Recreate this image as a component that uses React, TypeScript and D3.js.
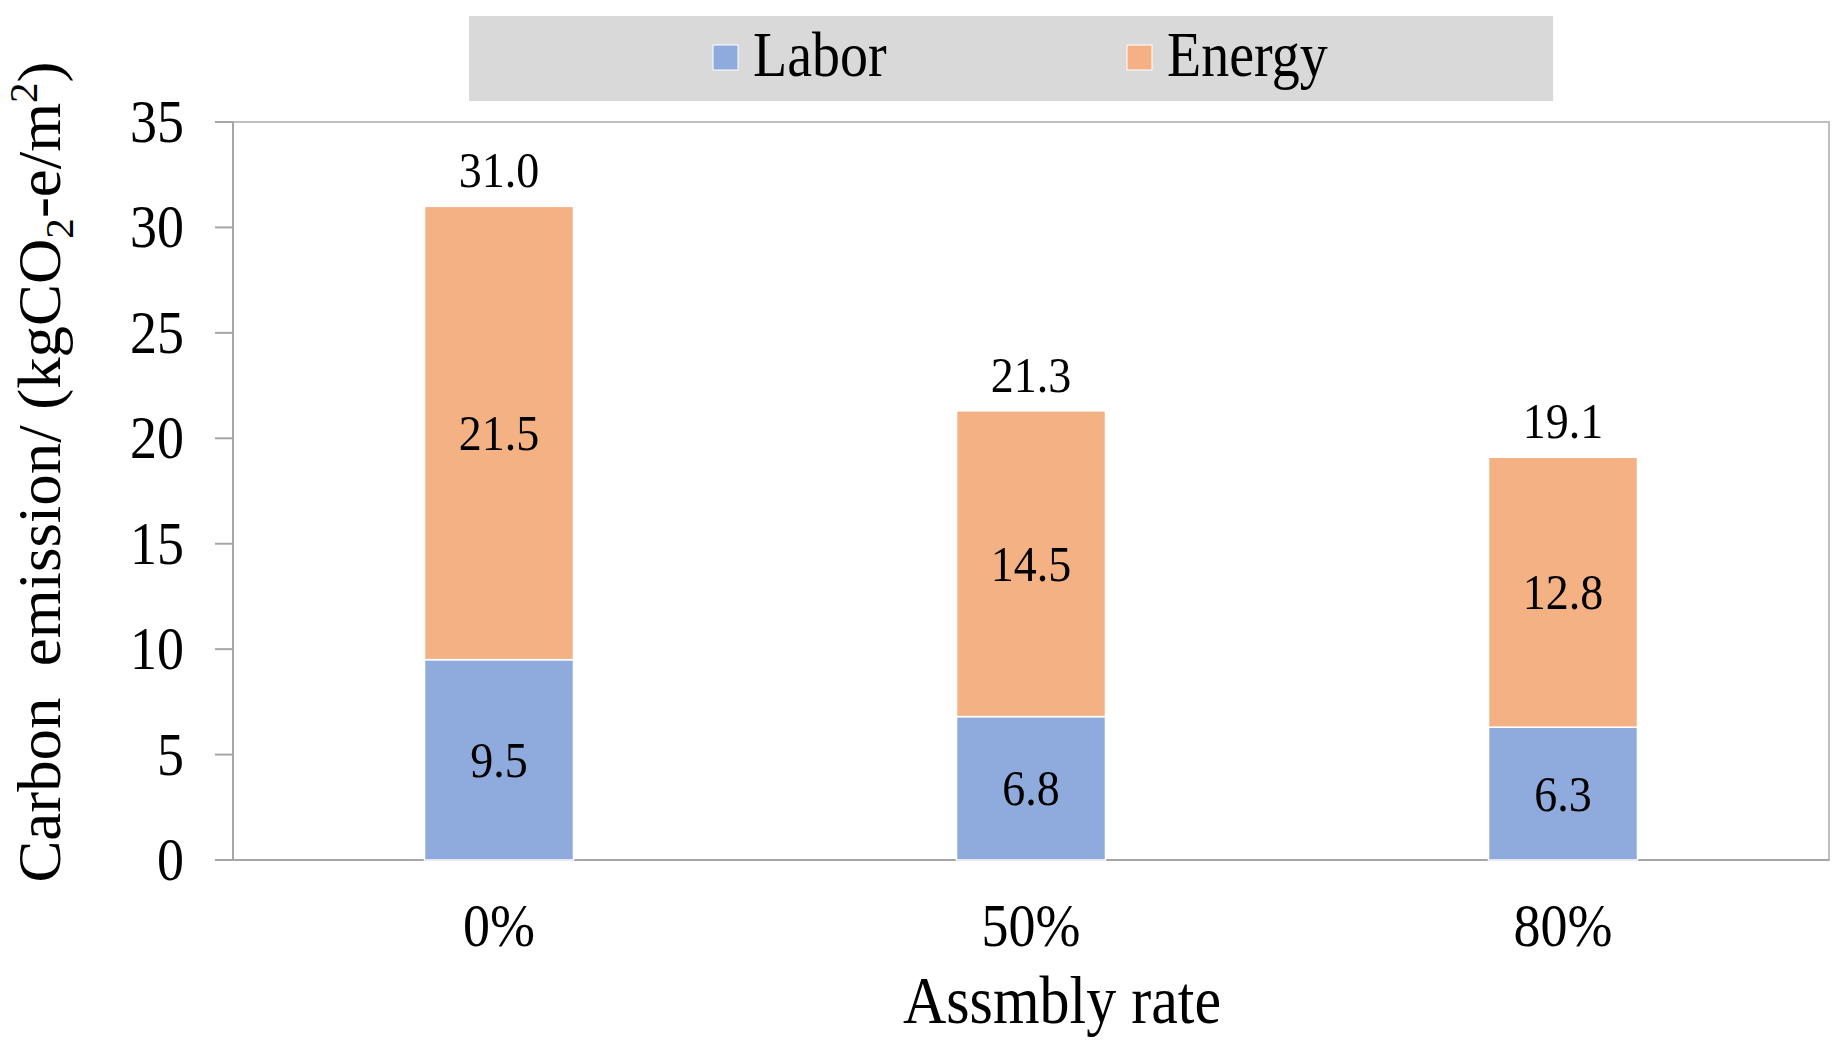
import React from "react";
import * as d3 from "d3";

const categories = ["0%", "50%", "80%"];
const labor = [9.5, 6.8, 6.3];
const energy = [21.5, 14.5, 12.8];
const totals = [31.0, 21.3, 19.1];
const seriesNames = ["Labor", "Energy"];
const seriesColors = ["#8faadc", "#f4b183"];
const yTicks = [0, 5, 10, 15, 20, 25, 30, 35];

const W = 1840;
const H = 1043;
const FONT = "'Liberation Serif', 'Times New Roman', serif";
const SY = 1.12;

function T(props: { x: number; y: number; size: number; anchor?: string; children: React.ReactNode }) {
  const { x, y, size, anchor = "start", children } = props;
  return (
    <text
      transform={`translate(${x},${y}) scale(1,${SY})`}
      textAnchor={anchor as any}
      fontSize={size}
      fill="#000"
    >
      {children}
    </text>
  );
}

export default function App() {
  const x0 = 233, x1 = 1829, yTop = 122, yBot = 860;
  const x = d3.scaleBand<string>().domain(categories).range([x0, x1]).padding(0);
  const y = d3.scaleLinear().domain([0, 35]).range([yBot, yTop]);
  const barW = x.bandwidth() * 0.28;

  const rows = categories.map((c, i) => ({ cat: c, Labor: labor[i], Energy: energy[i] }));
  const stack = d3.stack<any>().keys(seriesNames)(rows);
  const cxOf = (i: number) => (x(categories[i]) as number) + x.bandwidth() / 2;

  return (
    <svg
      width={W}
      height={H}
      style={{ position: "absolute", left: 0, top: 0, background: "#fff" }}
      fontFamily={FONT}
    >
      <rect x={0} y={0} width={W} height={H} fill="#ffffff" />
      {/* legend */}
      <rect x={469} y={16} width={1084} height={85} fill="#d9d9d9" />
      {seriesNames.map((s, i) => {
        const lx = i === 0 ? 713 : 1127;
        return (
          <g key={s}>
            <rect x={lx} y={45} width={25} height={25} fill={seriesColors[i]} stroke="#fff" strokeWidth={1} />
            <T x={lx + 40} y={76} size={56}>{s}</T>
          </g>
        );
      })}

      {/* plot border */}
      <rect x={x0} y={yTop} width={x1 - x0} height={yBot - yTop} fill="none" stroke="#bfbfbf" strokeWidth={2} />
      <line x1={x0} x2={x0} y1={yTop} y2={yBot} stroke="#a6a6a6" strokeWidth={2} />
      <line x1={x0} x2={x1} y1={yBot} y2={yBot} stroke="#a6a6a6" strokeWidth={2} />

      {/* y ticks */}
      {yTicks.map((t) => (
        <g key={t}>
          <line x1={x0 - 18} x2={x0} y1={y(t)} y2={y(t)} stroke="#a6a6a6" strokeWidth={2} />
          <T x={x0 - 49} y={y(t) + 20} size={54} anchor="end">{t}</T>
        </g>
      ))}

      {/* bars */}
      {stack.map((layer, si) =>
        layer.map((d, i) => {
          const cx = cxOf(i);
          const top = y(d[1]);
          const bot = y(d[0]);
          const val = si === 0 ? labor[i] : energy[i];
          return (
            <g key={`${si}-${i}`}>
              <rect
                x={cx - barW / 2}
                y={top}
                width={barW}
                height={bot - top}
                fill={seriesColors[si]}
                stroke="#ffffff"
                strokeWidth={1.5}
              />
              <T x={cx} y={(top + bot) / 2 + 17} size={46} anchor="middle">
                {val.toFixed(1)}
              </T>
            </g>
          );
        })
      )}

      {/* totals */}
      {totals.map((t, i) => (
        <T key={i} x={cxOf(i)} y={y(t) - 19} size={46} anchor="middle">
          {t.toFixed(1)}
        </T>
      ))}

      {/* x tick labels */}
      {categories.map((c, i) => (
        <T key={c} x={cxOf(i)} y={946} size={54} anchor="middle">
          {c}
        </T>
      ))}

      {/* axis titles */}
      <T x={1062} y={1023} size={60} anchor="middle">Assmbly rate</T>
      <text
        transform="translate(60,472) rotate(-90) scale(1.03,1)"
        textAnchor="middle"
        fontSize={61}
        fill="#000"
        xmlSpace="preserve"
      >
        Carbon  emission/ (kgCO
        <tspan fontSize={40} dy={13}>2</tspan>
        <tspan dy={-13}>-e/m</tspan>
        <tspan fontSize={40} dy={-23}>2</tspan>
        <tspan dy={23}>)</tspan>
      </text>
    </svg>
  );
}
